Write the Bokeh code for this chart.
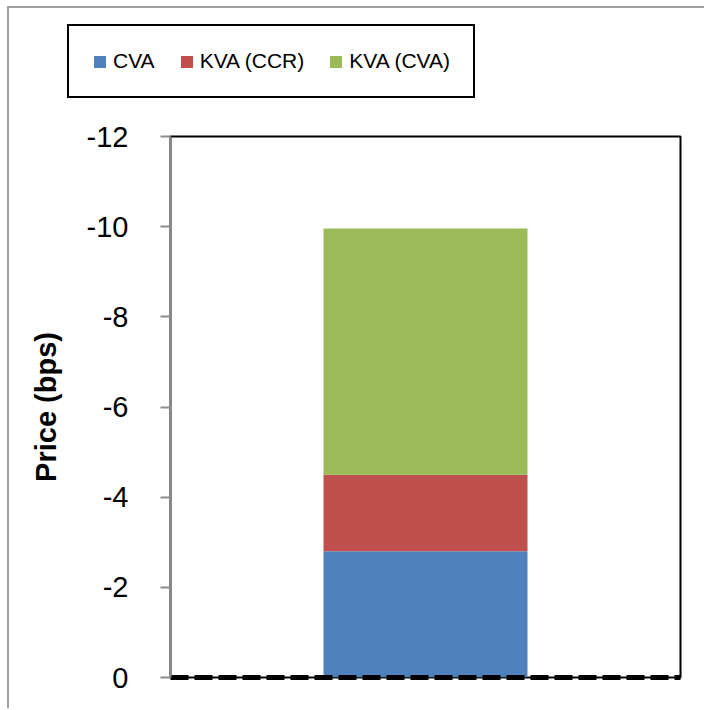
from bokeh.plotting import figure
from bokeh.models import Range1d, FixedTicker, Legend, LegendItem, ColumnDataSource
from bokeh.embed import file_html
from bokeh.resources import INLINE

# data
series = ["CVA", "KVA (CCR)", "KVA (CVA)"]
values = [-2.8, -1.7, -5.46]
colors = ["#4F81BD", "#C0504D", "#9BBB59"]
y_ticks = [0, -2, -4, -6, -8, -10, -12]
y_tick_labels = ["0", "-2", "-4", "-6", "-8", "-10", "-12"]
x_pos = [0.5]

sources = []
bottom = 0.0
for v in values:
    sources.append(ColumnDataSource(dict(x=x_pos, top=[bottom + v], bottom=[bottom])))
    bottom += v

# main chart
p = figure(width=697, height=592, output_backend="svg", toolbar_location=None,
           x_range=Range1d(0, 1), y_range=Range1d(0, -12),
           min_border_left=161, min_border_top=20, min_border_right=26, min_border_bottom=31)
p.styles = {"margin-left": "7px", "border-left": "2px solid #a0a0a0"}
p.xgrid.visible = False
p.ygrid.visible = False
p.outline_line_color = "black"
p.outline_line_width = 2

for src, c in zip(sources, colors):
    p.vbar(x="x", top="top", bottom="bottom", width=0.4, source=src,
           fill_color=c, line_color=None)

# x axis used as the dashed zero line
xax = p.xaxis[0]
xax.axis_line_color = "black"
xax.axis_line_width = 5
xax.axis_line_dash = "18 6"
xax.major_tick_line_color = None
xax.minor_tick_line_color = None
xax.major_label_text_font_size = "0px"
xax.ticker = FixedTicker(ticks=[])

yax = p.yaxis[0]
yax.ticker = FixedTicker(ticks=y_ticks)
yax.major_label_overrides = dict(zip(y_ticks, y_tick_labels))
yax.minor_tick_line_color = None
yax.axis_line_color = "#8c8c8c"
yax.axis_line_width = 2
yax.major_tick_line_color = "#8c8c8c"
yax.major_tick_line_width = 2
yax.major_tick_out = 10
yax.major_tick_in = 0
yax.major_label_text_font = "Liberation Sans"
yax.major_label_text_font_size = "29px"
yax.major_label_text_color = "black"
yax.major_label_standoff = 32
yax.axis_label = "Price (bps)"
yax.axis_label_text_font = "Liberation Sans"
yax.axis_label_text_font_style = "bold"
yax.axis_label_text_font_size = "29px"
yax.axis_label_text_color = "black"
yax.axis_label_standoff = 22

# legend strip above the chart (bars lie outside its view; only the legend shows)
lg = figure(width=697, height=110, output_backend="svg", toolbar_location=None,
            x_range=Range1d(0, 1), y_range=Range1d(100, 101),
            min_border_left=0, min_border_top=0, min_border_right=0, min_border_bottom=0)
lg.styles = {"margin-left": "7px", "margin-top": "6px",
             "border-left": "2px solid #a0a0a0", "border-top": "2px solid #a0a0a0"}
lg.axis.visible = False
lg.grid.visible = False
lg.outline_line_color = None
items = []
for name, src, c in zip(series, sources, colors):
    r = lg.vbar(x="x", top="top", bottom="bottom", width=0.4, source=src,
                fill_color=c, line_color=None)
    items.append(LegendItem(label=name, renderers=[r]))

legend = Legend(items=items, orientation="horizontal", location=(58, 20),
                border_line_color="black", border_line_width=2, border_line_alpha=1,
                label_text_font="Liberation Sans", label_text_font_size="21px",
                label_text_color="black",
                glyph_width=15, glyph_height=15, label_standoff=6, spacing=24,
                padding=23, margin=0, background_fill_alpha=1)
lg.add_layout(legend, "center")

open("out.html", "w").write(file_html([lg, p], INLINE))
